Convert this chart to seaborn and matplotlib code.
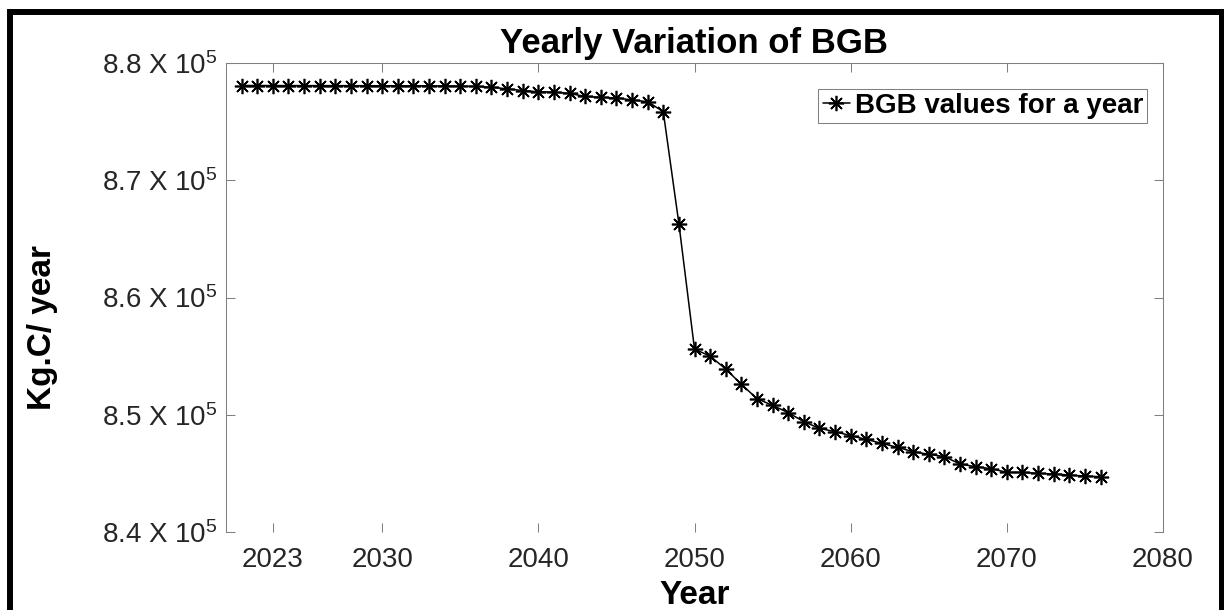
import matplotlib
matplotlib.use("Agg")
import matplotlib.pyplot as plt
import pandas as pd
import seaborn as sns
from matplotlib.patches import Rectangle

# Below-ground biomass carbon per year
years = list(range(2021, 2077))
bgb = [
    878080, 878080, 878075, 878075, 878070, 878070, 878070, 878065, 878065, 878060,
    878060, 878055, 878050, 878040, 878030,                      # 2021-2035
    878000, 877930, 877800, 877650, 877550, 877520, 877400, 877150, 877070, 877020,
    876850, 876700, 875850,                                      # 2036-2048
    866300,                                                      # 2049
    855600, 855000, 853900, 852600, 851370, 850800, 850180, 849410, 848840, 848560,
    848220, 847900, 847560, 847220, 846850, 846630, 846430, 845800, 845570, 845400,
    845090, 845080, 845000, 844950, 844860, 844770, 844720,     # 2050-2076
]

x_ticks = [2023, 2030, 2040, 2050, 2060, 2070, 2080]
y_ticks = [840000, 850000, 860000, 870000, 880000]
y_tick_labels = ["8.4 X 10$^{5}$", "8.5 X 10$^{5}$", "8.6 X 10$^{5}$",
                 "8.7 X 10$^{5}$", "8.8 X 10$^{5}$"]

title = "Yearly Variation of BGB"
x_label = "Year"
y_label = "Kg.C/ year"
series_label = "BGB values for a year"

sns.set_style("white")
plt.rcParams["font.family"] = ["Liberation Sans", "DejaVu Sans"]
plt.rcParams["mathtext.fontset"] = "custom"
plt.rcParams["mathtext.rm"] = "Liberation Sans"
plt.rcParams["mathtext.it"] = "Liberation Sans:italic"
plt.rcParams["mathtext.bf"] = "Liberation Sans:bold"
plt.rcParams["mathtext.default"] = "regular"

W, H = 1224, 610
fig = plt.figure(figsize=(W / 100, H / 100), dpi=100)
fig.patch.set_facecolor("white")
ax = fig.add_axes([226 / W, 1 - 532 / H, (1163 - 226) / W, (532 - 63) / H])

df = pd.DataFrame({"Year": years, "BGB": bgb})
sns.lineplot(data=df, x="Year", y="BGB", ax=ax, color="black", linewidth=1.1,
             marker=(8, 2, 0), markersize=11, markeredgewidth=1.2,
             markeredgecolor="black", label=series_label)

ax.set_xlim(2020, 2080)
ax.set_ylim(840000, 880000)
ax.set_xticks(x_ticks)
ax.set_xticklabels([str(t) for t in x_ticks])
ax.set_yticks(y_ticks)
ax.set_yticklabels(y_tick_labels)

spine_color = "#808080"
for name, sp in ax.spines.items():
    sp.set_color(spine_color)
    sp.set_linewidth(0.75)
ax.spines["bottom"].set_visible(False)

ax.tick_params(axis="both", direction="in", length=6.5, width=0.75,
               color=spine_color, labelsize=20, labelcolor="#262626",
               top=True, right=True, bottom=True, left=True)
ax.tick_params(axis="x", pad=11)
ax.tick_params(axis="y", pad=6)

ax.set_title(title, fontsize=25, fontweight="bold", color="black", pad=7)
ax.set_xlabel(x_label, fontsize=24, fontweight="bold", color="black")
ax.set_ylabel(y_label, fontsize=24, fontweight="bold", color="black")
ax.xaxis.set_label_coords(0.5, -0.102)
ax.yaxis.set_label_coords(-0.179, 0.437)

leg = ax.legend(loc="upper right", bbox_to_anchor=(0.983, 0.9446),
                borderaxespad=0, frameon=True, fancybox=False,
                edgecolor=spine_color, framealpha=1,
                prop={"weight": "bold", "size": 20},
                handlelength=1.0, handletextpad=0.15, borderpad=0.15)
leg.get_frame().set_linewidth(0.75)
for txt in leg.get_texts():
    txt.set_color("black")

# thick outer frame around the figure
fig.add_artist(Rectangle((10 / W, -0.1), (1221.5 - 10) / W, 1 - 12.5 / H + 0.1,
                         transform=fig.transFigure, fill=False,
                         edgecolor="black", linewidth=4.3, clip_on=False))

fig.savefig("out.png", dpi=100, facecolor="white")
